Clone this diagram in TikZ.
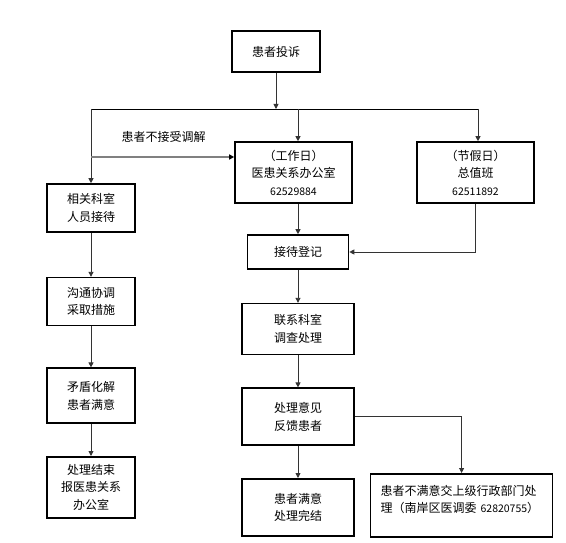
\documentclass[tikz,border=0pt]{standalone}
\usepackage{fontspec}
\setmainfont{Noto Sans CJK SC}
\usepackage{tikz}
\usetikzlibrary{arrows.meta,positioning,calc}
\newcommand{\telno}[1]{{\fontsize{10.5}{17.5}\selectfont #1}}

\begin{document}
\begin{tikzpicture}[
    x=1pt, y=1pt,
    node distance=32pt and 15pt,%纵向&横向间距
    stepbox/.style={
        rectangle, % shape
        draw=black, line width=1.6pt, %border
        inner sep=0pt,
        align=center,
        font=\fontsize{12}{17.5}\selectfont %font
      },
    flow/.style={
        draw=black!80, line width=0.9pt,
        -{Triangle[length=5pt,width=5pt]}},
    bus/.style={draw=black, line width=0.9pt}
  ]
  \useasboundingbox (0,0) rectangle (566,-543);
  % 顶部
  \node (complaint) [stepbox, minimum width=88pt, minimum height=41pt] at (276,-51.5) {患者投诉};
  \node (office) [stepbox, minimum width=117pt, minimum height=61pt] at (293.5,-172.5) {（工作日）\\医患关系办公室\\\telno{62529884}};
  \node (holiday) [stepbox, minimum width=117pt, minimum height=61pt] at (475.5,-172.5) {（节假日）\\总值班\\\telno{62511892}};
  % 左列
  \node (dept) [stepbox, minimum width=88pt, minimum height=48pt] at (91,-208) {相关科室\\人员接待};
  \node (negotiate) [stepbox, minimum width=88pt, minimum height=48pt, below=44pt of dept] {沟通协调\\采取措施};
  \node (resolve) [stepbox, minimum width=88pt, minimum height=55pt, below=41pt of negotiate] {矛盾化解\\患者满意};
  \node (finish) [stepbox, minimum width=88pt, minimum height=61pt, below=of resolve] {处理结束\\报医患关系\\办公室};
  % 中列
  \node (register) [stepbox, minimum width=101pt, minimum height=34pt] at (298,-252) {接待登记};
  \node (investigate) [stepbox, minimum width=112pt, minimum height=51pt, below=33pt of register] {联系科室\\调查处理};
  \node (feedback) [stepbox, minimum width=112pt, minimum height=57pt, below=of investigate] {处理意见\\反馈患者};
  \node (satisfied) [stepbox, minimum width=112pt, minimum height=57pt, below=of feedback] {患者满意\\处理完结};
  \node (escalate) [stepbox, minimum width=182pt, minimum height=63pt, text width=162pt, align=left,
    right=15pt of satisfied, yshift=2pt] {患者不满意交上级行政部门处\\理（南岸区医调委 \telno{62820755}）\\[-5pt]\mbox{}};
  \node (refuse) at (163.5,-137) [font=\fontsize{12}{14}\selectfont] {患者不接受调解};
  % 分支
  \coordinate (busL) at (91,-109);
  \coordinate (busM) at (298,-109);
  \coordinate (busR) at (478,-109);
  \coordinate (turn) at (91,-157);
  \draw[flow] (complaint.south) -- (complaint.south |- busL);
  \draw[bus] (busL) -- (busR);
  \draw[flow] (busM) -- (busM |- office.north);
  \draw[flow] (busR) -- (busR |- holiday.north);
  \draw[flow] (busL) -- (dept.north);
  \draw[draw=gray, line width=1.6pt, -{Triangle[length=5pt,width=5pt,color=black]}] (turn) -- (turn -| office.west);
  % 流程
  \draw[flow] (busM |- office.south) -- (register.north);
  \draw[flow] (holiday.south) |- (register.east);
  \draw[flow] (register.south) -- (investigate.north);
  \draw[flow] (investigate.south) -- (feedback.north);
  \draw[flow] (feedback.south) -- (satisfied.north);
  \draw[flow] (feedback.east) -| (escalate.north);
  \draw[flow] (dept.south) -- (negotiate.north);
  \draw[flow] (negotiate.south) -- (resolve.north);
  \draw[flow] (resolve.south) -- (finish.north);
\end{tikzpicture}
\end{document}
